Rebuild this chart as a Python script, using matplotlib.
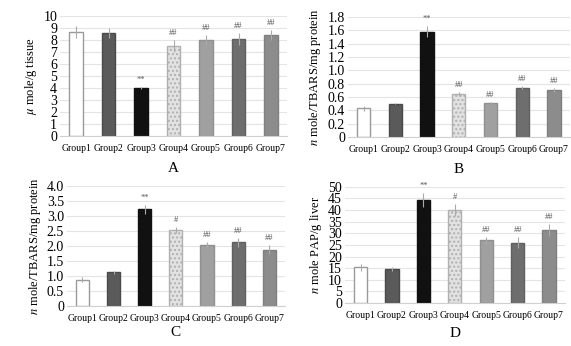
import matplotlib
matplotlib.use("Agg")
import matplotlib.pyplot as plt

plt.rcParams["font.family"] = ["Liberation Serif", "DejaVu Serif"]
plt.rcParams["mathtext.fontset"] = "stix"

groups = ["Group1", "Group2", "Group3", "Group4", "Group5", "Group6", "Group7"]

vals_a = [8.7, 8.6, 4.0, 7.5, 8.0, 8.1, 8.4]
err_a = [0.5, 0.4, 0.12, 0.5, 0.4, 0.5, 0.4]
sig_a = ["", "", "**", "##", "##", "##", "##"]

vals_b = [0.43, 0.50, 1.58, 0.64, 0.51, 0.74, 0.70]
err_b = [0.04, 0.01, 0.08, 0.03, 0.02, 0.02, 0.03]
sig_b = ["", "", "**", "##", "##", "##", "##"]

vals_c = [0.87, 1.12, 3.22, 2.52, 2.02, 2.12, 1.88]
err_c = [0.08, 0.05, 0.15, 0.1, 0.1, 0.15, 0.15]
sig_c = ["", "", "**", "#", "##", "##", "##"]

vals_d = [15.5, 14.8, 44.5, 40.0, 27.0, 26.0, 31.5]
err_d = [1.5, 0.8, 3.0, 2.5, 1.5, 2.5, 2.5]
sig_d = ["", "", "**", "#", "##", "##", "##"]

fills = ["white", "#5a5a5a", "#111111", "#e2e2e2", "#a0a0a0", "#6e6e6e", "#8c8c8c"]
edges = ["#9a9a9a", "#4a4a4a", "#111111", "#b0b0b0", "#909090", "#606060", "#808080"]
hatches = [None, None, None, "....", None, None, None]

fig = plt.figure(figsize=(5.71, 3.46), dpi=100)


def panel(rect, vals, errs, sig, ylim, ticks, ticklabels, ylabel, letter, letter_y):
    ax = fig.add_axes(rect)
    x = range(len(groups))
    for i in x:
        ax.bar(i, vals[i], width=0.42, color=fills[i], edgecolor=edges[i],
               hatch=hatches[i], linewidth=1.0, zorder=2)
    ax.errorbar(list(x), vals, yerr=errs, fmt="none", ecolor="#aaaaaa",
                elinewidth=0.8, capsize=0, zorder=3)
    off = (ylim[1] - ylim[0]) * 0.025
    for i in x:
        if sig[i]:
            ax.text(i, vals[i] + errs[i] + off, sig[i], ha="center", va="bottom",
                    fontsize=6, color="#555555")
    ax.set_xlim(-0.5, 6.5)
    ax.set_ylim(*ylim)
    ax.set_yticks(ticks)
    ax.set_yticklabels(ticklabels, fontsize=10)
    ax.set_xticks(list(x))
    ax.set_xticklabels(groups, fontsize=7)
    ax.tick_params(axis="y", length=0, pad=2)
    ax.tick_params(axis="x", length=0, pad=6)
    ax.grid(axis="y", color="#e4e4e4", linewidth=0.8, zorder=0)
    for s in ["top", "right", "left"]:
        ax.spines[s].set_visible(False)
    ax.spines["bottom"].set_color("#d0d0d0")
    ax.set_ylabel(ylabel, fontsize=9, labelpad=3)
    ax.text(0.5, letter_y, letter, transform=ax.transAxes, ha="center",
            va="center", fontsize=11)
    return ax


panel([0.105, 0.607, 0.398, 0.347], vals_a, err_a, sig_a, (0, 10),
      list(range(11)), [str(t) for t in range(11)],
      r"$\mu$ mole/g tissue", "A", -0.27)
panel([0.609, 0.604, 0.389, 0.347], vals_b, err_b, sig_b, (0, 1.8),
      [0, 0.2, 0.4, 0.6, 0.8, 1.0, 1.2, 1.4, 1.6, 1.8],
      ["0", "0.2", "0.4", "0.6", "0.8", "1.0", "1.2", "1.4", "1.6", "1.8"],
      r"$n$ mole/TBARS/mg protein", "B", -0.27)
panel([0.117, 0.116, 0.382, 0.346], vals_c, err_c, sig_c, (0, 4.0),
      [0, 0.5, 1.0, 1.5, 2.0, 2.5, 3.0, 3.5, 4.0],
      ["0", "0.5", "1.0", "1.5", "2.0", "2.5", "3.0", "3.5", "4.0"],
      r"$n$ mole/TBARS/mg protein", "C", -0.225)
panel([0.604, 0.124, 0.385, 0.336], vals_d, err_d, sig_d, (0, 50),
      list(range(0, 51, 5)), [str(t) for t in range(0, 51, 5)],
      r"$n$ mole PAP/g liver", "D", -0.26)

fig.savefig("out.png", dpi=100)
